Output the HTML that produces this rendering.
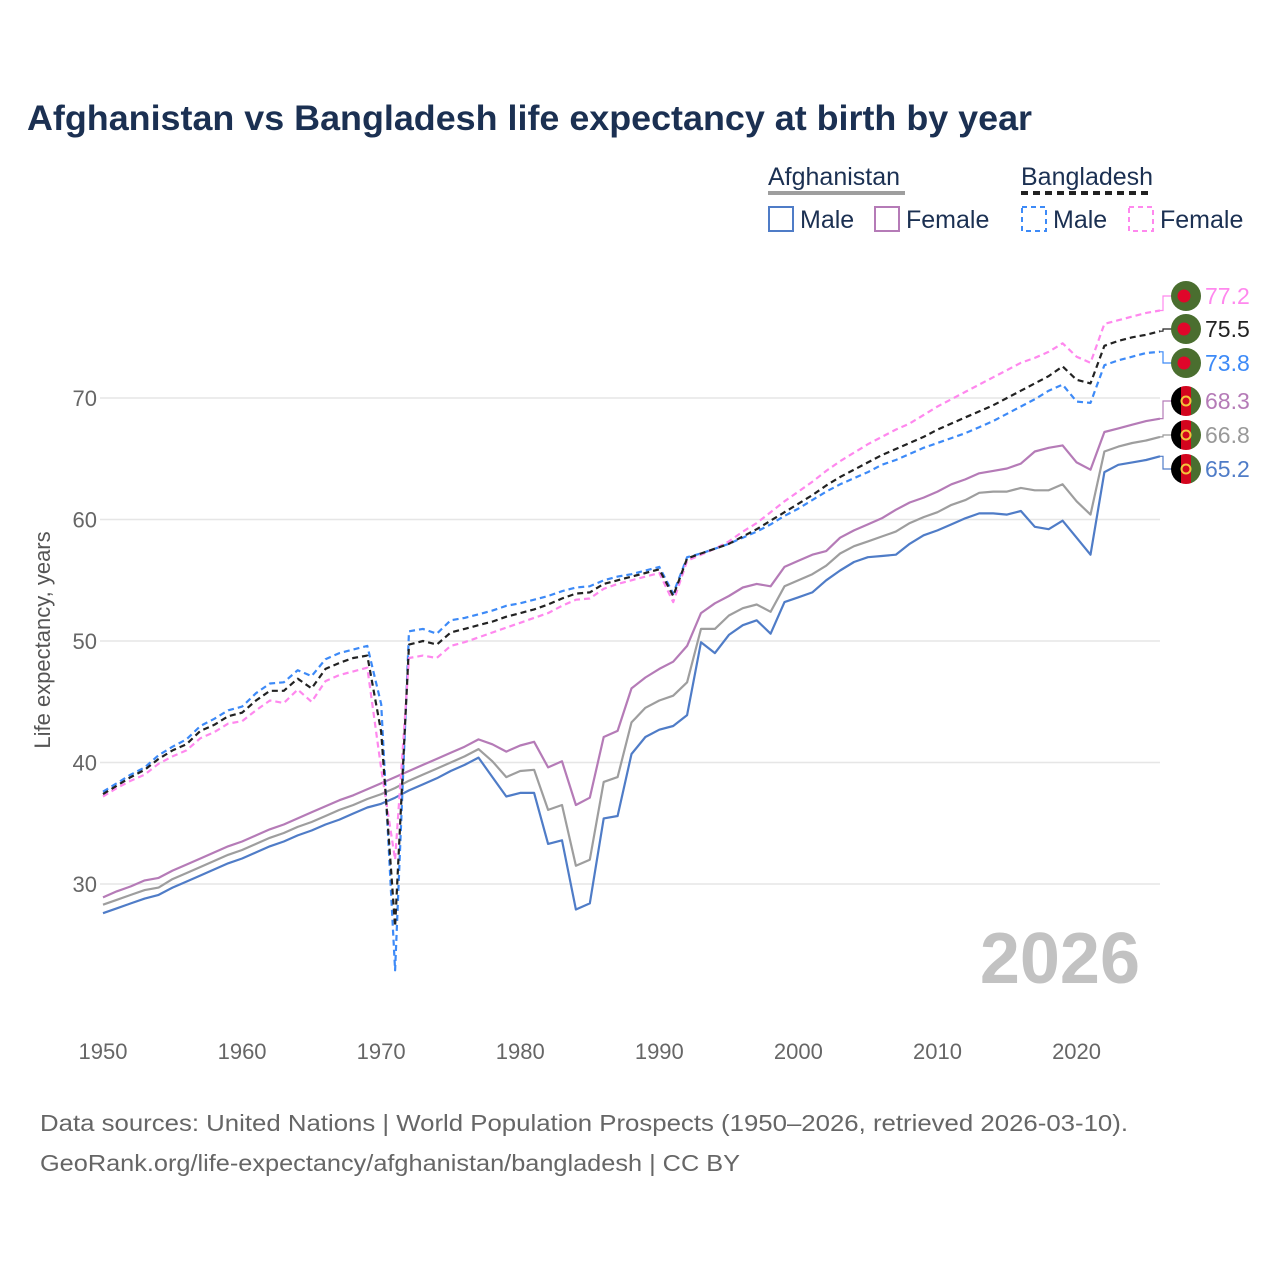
<!DOCTYPE html>
<html><head><meta charset="utf-8">
<style>
html,body{margin:0;padding:0;background:#fff;}
body{width:1280px;height:1280px;overflow:hidden;font-family:"Liberation Sans",sans-serif;}
</style></head>
<body>
<svg id="chart" width="1280" height="1280" viewBox="0 0 1280 1280" xmlns="http://www.w3.org/2000/svg" font-family="Liberation Sans, sans-serif">
<rect width="1280" height="1280" fill="#fff"/>
<text x="27" y="130" font-size="35" font-weight="bold" fill="#1b3052" textLength="1005" lengthAdjust="spacingAndGlyphs">Afghanistan vs Bangladesh life expectancy at birth by year</text>
<g font-size="25" fill="#1b3052">
  <text x="768" y="185">Afghanistan</text>
  <line x1="768" y1="193" x2="905" y2="193" stroke="#9e9e9e" stroke-width="4"/>
  <text x="1021" y="185">Bangladesh</text>
  <line x1="1021" y1="193" x2="1152" y2="193" stroke="#222" stroke-width="4" stroke-dasharray="7,5"/>
  <g><rect x="769" y="207" width="24" height="24" fill="none" stroke="#4f7cc7" stroke-width="2"/><text x="800" y="228">Male</text></g>
  <g><rect x="875" y="207" width="24" height="24" fill="none" stroke="#b57bb7" stroke-width="2"/><text x="906" y="228">Female</text></g>
  <g><rect x="1022" y="207" width="24" height="24" fill="none" stroke="#3d8af7" stroke-width="2" stroke-dasharray="5,4"/><text x="1053" y="228">Male</text></g>
  <g><rect x="1129" y="207" width="24" height="24" fill="none" stroke="#ff88ee" stroke-width="2" stroke-dasharray="5,4"/><text x="1160" y="228">Female</text></g>
</g>
<g id="grid"></g>
<g id="series"></g>
<g id="labels"></g>
<text transform="translate(50,640) rotate(-90)" text-anchor="middle" font-size="22" fill="#555">Life expectancy, years</text>
<text x="1140" y="983" text-anchor="end" font-size="72" font-weight="bold" fill="#c2c2c2">2026</text>
<text x="40" y="1131" font-size="23" fill="#666" textLength="1088" lengthAdjust="spacingAndGlyphs">Data sources: United Nations | World Population Prospects (1950–2026, retrieved 2026-03-10).</text>
<text x="40" y="1171" font-size="23" fill="#666" textLength="700" lengthAdjust="spacingAndGlyphs">GeoRank.org/life-expectancy/afghanistan/bangladesh | CC BY</text>
</svg>
<script>
const startYear = 1950;
const xTicks = [1950,1960,1970,1980,1990,2000,2010,2020];
const yTicks = [30,40,50,60,70];
const afgMale = [27.6,28.0,28.4,28.8,29.1,29.7,30.2,30.7,31.2,31.7,32.1,32.6,33.1,33.5,34.0,34.4,34.9,35.3,35.8,36.3,36.6,37.1,37.7,38.2,38.7,39.3,39.8,40.4,
 38.8,37.2,37.5,37.5,33.3,33.6,27.9,28.4,35.4,35.6,40.7,42.1,42.7,43.0,43.9,49.9,49.0,50.5,51.3,51.7,50.6,53.2,53.6,54.0,55.0,55.8,56.5,56.9,57.0,57.1,58.0,58.7,59.1,59.6,60.1,60.5,60.5,60.4,60.7,59.4,59.2,59.9,58.5,57.1,63.9,64.5,64.7,64.9,65.2];
const afgFemale = [28.9,29.4,29.8,30.3,30.5,31.1,31.6,32.1,32.6,33.1,33.5,34.0,34.5,34.9,35.4,35.9,36.4,36.9,37.3,37.8,38.3,38.8,39.3,39.8,40.3,40.8,41.3,41.9,
 41.5,40.9,41.4,41.7,39.6,40.1,36.5,37.1,42.1,42.6,46.1,47.0,47.7,48.3,49.6,52.3,53.1,53.7,54.4,54.7,54.5,56.1,56.6,57.1,57.4,58.5,59.1,59.6,60.1,60.8,61.4,61.8,62.3,62.9,63.3,63.8,64.0,64.2,64.6,65.6,65.9,66.1,64.7,64.1,67.2,67.5,67.8,68.1,68.3];
const afgTotal = [28.3,28.7,29.1,29.5,29.7,30.4,30.9,31.4,31.9,32.4,32.8,33.3,33.8,34.2,34.7,35.1,35.6,36.1,36.5,37.0,37.4,37.9,38.5,39.0,39.5,40.0,40.5,41.1,
 40.1,38.8,39.3,39.4,36.1,36.5,31.5,32.0,38.4,38.8,43.3,44.5,45.1,45.5,46.6,51.0,51.0,52.1,52.7,53.0,52.4,54.5,55.0,55.5,56.2,57.2,57.8,58.2,58.6,59.0,59.7,60.2,60.6,61.2,61.6,62.2,62.3,62.3,62.6,62.4,62.4,62.9,61.5,60.4,65.6,66.0,66.3,66.5,66.8];
const bgdMale = [37.6,38.3,39.0,39.6,40.6,41.3,41.9,43.0,43.6,44.3,
 44.6,45.7,46.5,46.6,47.6,47.1,48.5,49.0,49.3,49.6,
 44.8,22.9,50.8,51.0,50.6,51.7,51.9,52.2,52.5,52.9,
 53.1,53.4,53.7,54.1,54.4,54.5,55.0,55.3,55.5,55.8,
 56.1,53.9,56.9,57.2,57.6,58.0,58.5,59.0,59.6,60.3,
 60.9,61.6,62.3,62.9,63.4,63.9,64.5,64.9,65.4,65.9,
 66.3,66.7,67.1,67.6,68.1,68.7,69.3,69.9,70.6,71.1,
 69.7,69.6,72.7,73.1,73.4,73.7,73.8];
const bgdTotal = [37.4,38.1,38.8,39.4,40.3,41.0,41.5,42.6,43.1,43.8,
 44.1,45.1,45.9,45.9,46.9,46.1,47.7,48.2,48.6,48.8,
 42.5,26.5,49.7,50.0,49.7,50.7,51.0,51.3,51.6,52.0,
 52.3,52.6,53.0,53.5,53.9,54.0,54.7,55.0,55.3,55.6,
 55.9,53.7,56.8,57.2,57.6,58.0,58.6,59.2,59.9,60.6,
 61.3,62.0,62.8,63.5,64.1,64.7,65.3,65.8,66.3,66.8,
 67.4,67.9,68.4,68.9,69.4,70.0,70.6,71.2,71.8,72.6,
 71.5,71.2,74.3,74.7,75.0,75.2,75.5];
const bgdFemale = [37.2,37.9,38.5,39.0,39.9,40.5,41.0,42.0,42.5,43.2,
 43.4,44.3,45.1,44.9,46.0,45.0,46.7,47.2,47.5,47.8,
 39.5,32.0,48.6,48.8,48.6,49.6,49.9,50.3,50.7,51.1,
 51.5,51.9,52.3,52.9,53.4,53.5,54.3,54.7,55.0,55.3,
 55.6,53.2,56.6,57.1,57.6,58.2,59.0,59.7,60.6,61.5,
 62.3,63.1,64.0,64.8,65.5,66.2,66.8,67.4,67.9,68.6,
 69.3,69.9,70.5,71.1,71.7,72.3,72.9,73.3,73.8,74.5,
 73.4,72.9,76.1,76.4,76.7,77.0,77.2];
const endLabels = ["77.2","75.5","73.8","68.3","66.8","65.2"];

const NS = "http://www.w3.org/2000/svg";
function xScale(yr){ return 103 + (yr-1950)*(1160-103)/76; }
function yScale(v){ return 884 - (v-30)*12.15; }
function el(tag, attrs, parent){ const e=document.createElementNS(NS,tag); for(const k in attrs) e.setAttribute(k,attrs[k]); parent.appendChild(e); return e; }

const grid=document.getElementById('grid');
yTicks.forEach(v=>{
  const l=el('line',{x1:100,x2:1160,y1:yScale(v),y2:yScale(v),stroke:'#e6e6e6','stroke-width':1.5},grid);
  
  
  const t=el('text',{x:97,y:yScale(v)+8,'text-anchor':'end','font-size':22,fill:'#666'},grid);
  t.textContent=v;
  
  
});
xTicks.forEach(yr=>{
  const t=el('text',{x:xScale(yr),y:1059,'text-anchor':'middle','font-size':22,fill:'#666'},grid);
  t.textContent=yr;
  
  
});

const seriesDefs=[
  {name:'afghanistan-male-line',data:afgMale,color:'#4f7cc7',dash:null,ly:469,lc:'#4f7cc7',flag:'afg'},
  {name:'afghanistan-female-line',data:afgFemale,color:'#b57bb7',dash:null,ly:401,lc:'#b57bb7',flag:'afg'},
  {name:'afghanistan-total-line',data:afgTotal,color:'#9e9e9e',dash:null,ly:435,lc:'#999',flag:'afg'},
  {name:'bangladesh-male-line',data:bgdMale,color:'#3d8af7',dash:'6,4',ly:363,lc:'#3d8af7',flag:'bgd'},
  {name:'bangladesh-female-line',data:bgdFemale,color:'#ff88ee',dash:'6,4',ly:296,lc:'#ff88ee',flag:'bgd'},
  {name:'bangladesh-total-line',data:bgdTotal,color:'#222',dash:'6,4',ly:329,lc:'#222',flag:'bgd'}
];
const labelOrder={ 'bangladesh-female-line':0,'bangladesh-total-line':1,'bangladesh-male-line':2,'afghanistan-female-line':3,'afghanistan-total-line':4,'afghanistan-male-line':5 };
const sg=document.getElementById('series');
const lg=document.getElementById('labels');
seriesDefs.forEach(s=>{
  const pts=s.data.map((v,i)=>xScale(startYear+i).toFixed(1)+','+yScale(v).toFixed(1)).join(' ');
  const a={points:pts,fill:'none',stroke:s.color,'stroke-width':2.2,'stroke-linejoin':'round'};
  if(s.dash) a['stroke-dasharray']=s.dash;
  const p=el('polyline',a,sg);
  
  
  const lastY=yScale(s.data[s.data.length-1]);
  const x0=xScale(startYear+s.data.length-1);
  el('polyline',{points:`${x0},${lastY} ${x0+3},${lastY} ${x0+3},${s.ly} ${1172},${s.ly}`,fill:'none',stroke:s.lc,'stroke-width':1.2},lg);
  const cx=1186, cy=s.ly;
  const g=el('g',{},lg);
  
  
  if(s.flag==='bgd'){
    el('circle',{cx,cy,r:15,fill:'#4a6e2f'},g);
    el('circle',{cx:cx-2,cy,r:6.5,fill:'#e0062a'},g);
  } else {
    const id='clip'+s.name;
    const cp=el('clipPath',{id},g); el('circle',{cx,cy,r:15},cp);
    const gg=el('g',{'clip-path':`url(#${id})`},g);
    el('rect',{x:cx-15,y:cy-15,width:10,height:30,fill:'#000'},gg);
    el('rect',{x:cx-5,y:cy-15,width:10,height:30,fill:'#d3051e'},gg);
    el('rect',{x:cx+5,y:cy-15,width:10,height:30,fill:'#4a6e2f'},gg);
    el('circle',{cx,cy,r:4.5,fill:'none',stroke:'#f3c53b','stroke-width':2},gg);
  }
  const t=el('text',{x:1205,y:s.ly+8,'font-size':23,fill:s.lc},lg);
  t.textContent=endLabels[labelOrder[s.name]];
  
  
});
</script>
</body></html>
